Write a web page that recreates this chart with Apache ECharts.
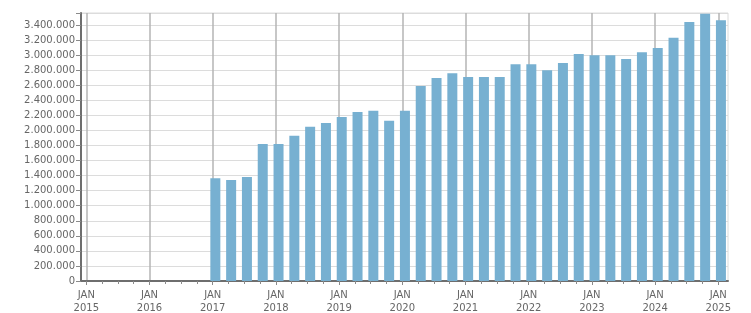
<!DOCTYPE html>
<html>
<head>
<meta charset="utf-8">
<script src="https://cdn.jsdelivr.net/npm/echarts@6/dist/echarts.min.js"></script>
<style>
html,body{margin:0;padding:0;background:#fff;}
#chart{width:751px;height:313px;}
</style>
</head>
<body>
<div id="chart"></div>
<script>
// Quarter start months (YYYY-MM) of each bar
const quarters = [
  '2017-01','2017-04','2017-07','2017-10',
  '2018-01','2018-04','2018-07','2018-10',
  '2019-01','2019-04','2019-07','2019-10',
  '2020-01','2020-04','2020-07','2020-10',
  '2021-01','2021-04','2021-07','2021-10',
  '2022-01','2022-04','2022-07','2022-10',
  '2023-01','2023-04','2023-07','2023-10',
  '2024-01','2024-04','2024-07','2024-10',
  '2025-01'
];
const values = [
  1365000, 1340000, 1380000, 1820000,
  1820000, 1930000, 2050000, 2100000,
  2180000, 2245000, 2260000, 2130000,
  2260000, 2590000, 2695000, 2760000,
  2710000, 2710000, 2710000, 2880000,
  2880000, 2800000, 2895000, 3015000,
  3000000, 3000000, 2950000, 3040000,
  3095000, 3230000, 3440000, 3550000,
  3465000
];
const yearLabels = ['2015','2016','2017','2018','2019','2020','2021','2022','2023','2024','2025'];
const monthLabel = 'JAN';

// convert a YYYY-MM month to fractional year at mid-month
function toYear(s) {
  const p = s.split('-');
  return Number(p[0]) + (Number(p[1]) - 1 + 0.5) / 12;
}
const yearValues = yearLabels.map(Number);
const quarterTicks = [];
for (let y = yearValues[0]; y < yearValues[yearValues.length - 1]; y++) {
  for (let q = 0; q < 4; q++) quarterTicks.push(y + q * 0.25);
}
quarterTicks.push(yearValues[yearValues.length - 1]);

const xMin = 2014.916, xMax = 2025.1535;
function fmt(v) {
  return String(Math.round(v)).replace(/\B(?=(\d{3})+(?!\d))/g, '.');
}
const FONT = 'DejaVu Sans';
const chart = echarts.init(document.getElementById('chart'), null, {renderer: 'canvas'});
chart.setOption({
  animation: false,
  backgroundColor: '#fff',
  grid: {left: 81, right: 23, top: 13, bottom: 32, show: true, borderColor: '#dcdcdc', borderWidth: 1, containLabel: false, outerBoundsMode: 'none'},
  xAxis: [
    {
      type: 'value', position: 'bottom', min: xMin, max: xMax,
      axisLine: {show: true, onZero: false, lineStyle: {color: '#6e6e6e', width: 2}},
      axisTick: {show: true, length: 3, customValues: quarterTicks, lineStyle: {color: '#8a8a8a'}},
      axisLabel: {show: false},
      splitLine: {show: false}
    },
    {
      type: 'value', position: 'bottom', offset: 0, min: xMin, max: xMax,
      axisLine: {show: false},
      axisTick: {show: true, length: 4, customValues: yearValues, lineStyle: {color: '#8a8a8a'}},
      axisLabel: {
        show: true, customValues: yearValues, margin: 8,
        fontFamily: FONT, fontSize: 10, color: '#666', lineHeight: 13,
        formatter: function (v) { return monthLabel + '\n' + Math.round(v); }
      },
      splitLine: {show: true, lineStyle: {color: '#b4b4b4', width: 1.5}}
    }
  ],
  yAxis: {
    type: 'value', min: 0, max: 3560000, interval: 200000,
    axisLine: {show: true, lineStyle: {color: '#6e6e6e', width: 2}},
    axisTick: {show: true, length: 5, lineStyle: {color: '#8a8a8a'}},
    axisLabel: {
      fontFamily: FONT, fontSize: 10, color: '#666', margin: 6,
      formatter: function (v) { return (v % 200000 === 0) ? fmt(v) : ''; }
    },
    splitLine: {show: true, lineStyle: {color: '#dcdcdc', width: 1}}
  },
  series: [{
    type: 'bar', xAxisIndex: 0, barWidth: 10,
    itemStyle: {color: '#77b0d1'},
    data: quarters.map(function (q, i) { return [toYear(q), values[i]]; })
  }]
});
</script>
</body>
</html>
